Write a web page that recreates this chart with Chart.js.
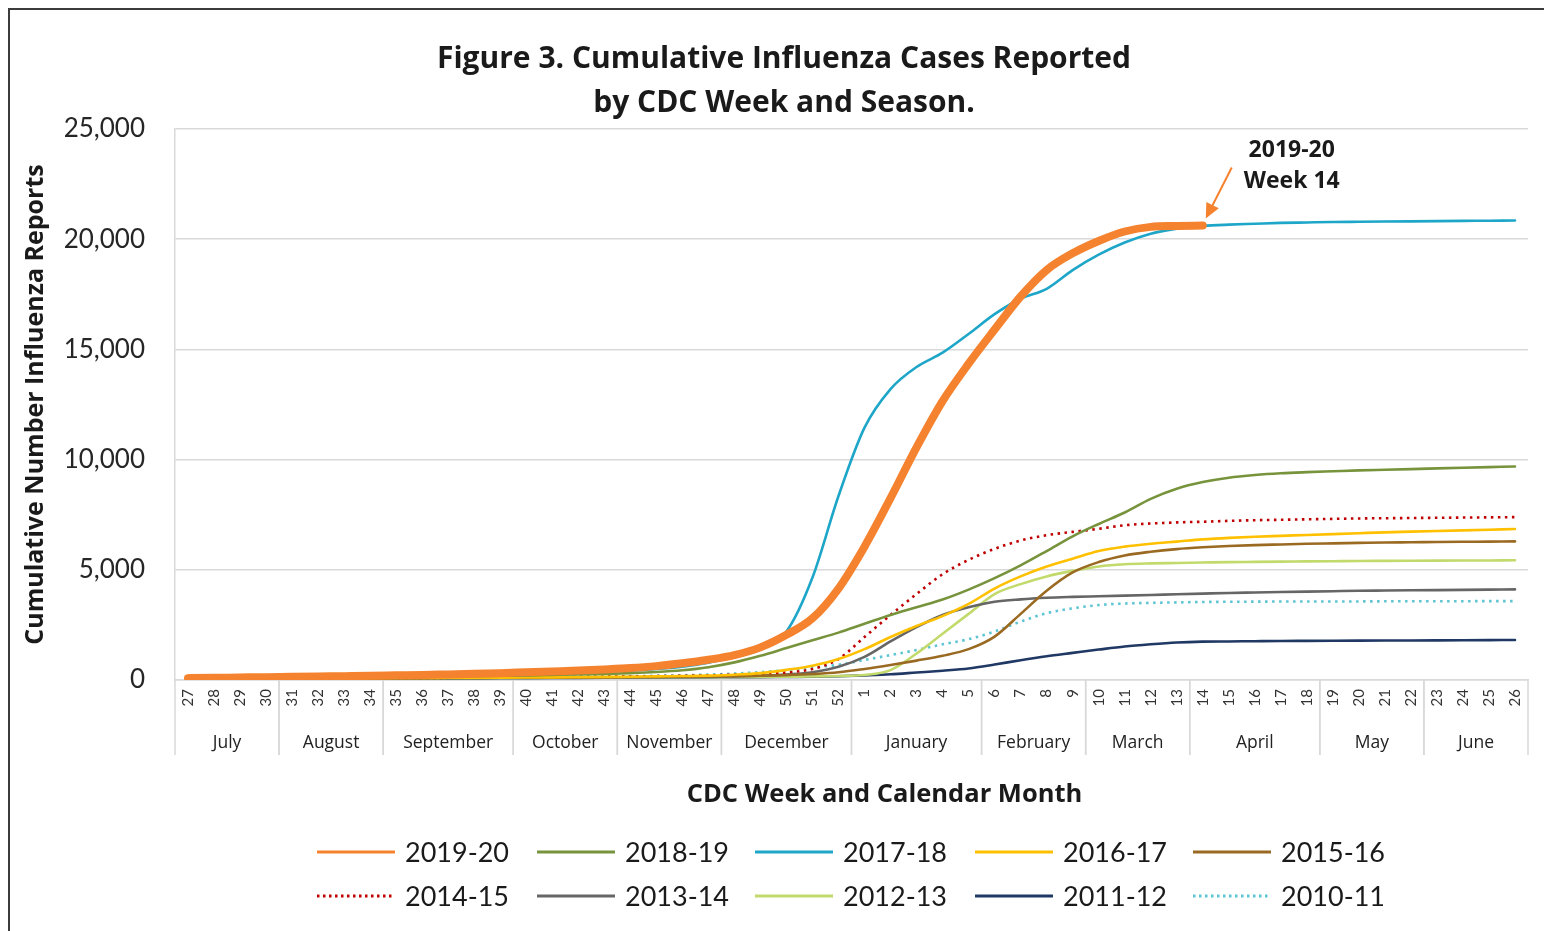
<!DOCTYPE html>
<html><head><meta charset="utf-8">
<script src="https://cdn.jsdelivr.net/npm/chart.js@4.4.1/dist/chart.umd.min.js"></script>
<style>html,body{margin:0;padding:0;background:#fff;overflow:hidden}
#wrap{position:relative;width:1544px;height:931px}</style>
</head><body><div id="wrap"><canvas id="c"></canvas></div>
<script>
const weekLabels = ['27','28','29','30','31','32','33','34','35','36','37','38','39','40','41','42','43','44','45','46','47','48','49','50','51','52','1','2','3','4','5','6','7','8','9','10','11','12','13','14','15','16','17','18','19','20','21','22','23','24','25','26'];
const monthNames = ['July','August','September','October','November','December','January','February','March','April','May','June'];
const weeksPerMonth = [4,4,5,4,4,5,5,4,4,5,4,4];
const seasonNames = ['2019-20','2018-19','2017-18','2016-17','2015-16','2014-15','2013-14','2012-13','2011-12','2010-11'];

const s2019_20 = [85,100,115,130,145,160,175,190,210,230,255,280,310,350,390,430,480,540,630,760,920,1130,1480,2050,2800,4150,6050,8250,10550,12650,14350,15900,17400,18600,19360,19920,20350,20560,20600,20620];
const s2018_19 = [60,70,80,90,100,110,120,130,140,150,165,180,195,210,230,250,275,310,360,440,580,800,1100,1450,1800,2150,2550,2950,3300,3650,4100,4620,5200,5850,6520,7080,7600,8220,8680,8980,9180,9300,9380,9430,9470,9510,9540,9570,9600,9630,9660,9690];
const s2017_18 = [70,85,100,110,125,135,150,160,175,190,210,230,255,280,310,340,380,430,500,600,780,1050,1380,2200,4650,8350,11450,13200,14200,14850,15700,16600,17300,17750,18600,19300,19850,20250,20480,20600,20660,20700,20740,20760,20780,20790,20800,20810,20820,20830,20840,20850];
const s2016_17 = [50,55,60,65,70,75,80,85,90,95,100,105,110,115,120,130,140,150,165,180,200,240,310,460,650,950,1400,1950,2450,2900,3450,4150,4700,5150,5500,5850,6050,6180,6280,6380,6450,6500,6540,6580,6620,6660,6700,6730,6760,6790,6820,6850];
const s2015_16 = [40,45,50,55,60,65,70,75,80,85,90,95,100,105,110,115,120,130,140,150,160,175,190,220,270,350,500,680,880,1100,1400,1970,3000,4050,4880,5350,5650,5820,5940,6020,6080,6120,6150,6180,6200,6220,6240,6250,6260,6270,6280,6290];
const s2014_15 = [50,55,60,65,70,75,80,85,90,95,100,105,110,120,130,140,150,160,175,190,210,240,280,340,500,950,1950,2950,3900,4800,5450,5950,6330,6570,6720,6860,7020,7100,7150,7180,7220,7250,7270,7290,7310,7330,7340,7350,7360,7370,7380,7390];
const s2013_14 = [40,45,50,55,60,65,70,75,80,85,90,95,100,105,110,115,120,125,130,140,150,165,190,250,350,600,1050,1750,2400,2950,3300,3550,3660,3730,3770,3800,3830,3860,3890,3920,3950,3970,3990,4010,4030,4050,4060,4070,4080,4090,4100,4110];
const s2012_13 = [30,35,40,45,50,55,60,65,70,75,80,85,90,95,100,105,110,115,120,125,130,135,140,150,160,180,230,450,1200,2100,3000,3900,4350,4700,4950,5150,5250,5290,5310,5330,5350,5360,5370,5380,5390,5400,5405,5410,5415,5420,5425,5430];
const s2011_12 = [20,25,30,35,40,45,50,55,60,65,70,75,80,85,90,95,100,105,110,115,120,125,130,140,150,170,210,260,340,420,520,700,900,1080,1230,1380,1520,1620,1700,1740,1750,1760,1770,1775,1780,1785,1790,1795,1800,1805,1810,1815];
const s2010_11 = [30,35,40,45,50,55,60,65,70,75,80,90,100,110,120,135,150,170,190,215,245,290,360,450,570,690,910,1130,1360,1620,1850,2200,2650,3030,3250,3400,3470,3500,3520,3540,3550,3555,3560,3560,3565,3565,3570,3570,3575,3575,3580,3580];

const seriesValues = [s2019_20,s2018_19,s2017_18,s2016_17,s2015_16,s2014_15,s2013_14,s2012_13,s2011_12,s2010_11];
const seriesColors = ['#f5822e','#77933c','#1ea6c9','#ffc000','#9a6a22','#c00000','#666666','#c2da6c','#1f3864','#5cc4d2'];
const seriesWidths = [8,2.6,2.6,2.6,2.6,2.6,2.6,2.6,2.6,2.6];
const seriesDash = [[],[],[],[],[],[2.5,4.5],[],[],[],[2.5,4.5]];

const FONT = 'Lato';
const TFONT = '"Open Sans"';
Chart.defaults.font.family = FONT;

const datasets = seasonNames.map((name,i)=>({
  label: name,
  data: seriesValues[i],
  borderColor: seriesColors[i],
  backgroundColor: seriesColors[i],
  borderWidth: seriesWidths[i],
  borderDash: seriesDash[i],
  pointRadius: 0,
  pointHoverRadius: 0,
  cubicInterpolationMode: 'monotone',
  fill: false,
  borderCapStyle: seriesDash[i].length ? 'butt' : 'round'
}));

const framePlugin = {
  id: 'frame',
  afterDraw(chart){
    const ctx = chart.ctx;
    ctx.save();
    ctx.strokeStyle = '#3c3c3c';
    ctx.lineWidth = 2;
    ctx.strokeRect(9, 9, 1700, 1100);
    ctx.restore();
  }
};

const monthAxisPlugin = {
  id: 'monthAxis',
  afterDraw(chart){
    const x = chart.scales.x, ctx = chart.ctx, area = chart.chartArea;
    const half = (x.getPixelForValue(1) - x.getPixelForValue(0)) / 2;
    ctx.save();
    ctx.strokeStyle = '#d9d9d9';
    ctx.lineWidth = 1.5;
    ctx.fillStyle = '#222222';
    ctx.font = '17.5px ' + TFONT;
    ctx.textAlign = 'center';
    ctx.textBaseline = 'middle';
    let idx = 0;
    weeksPerMonth.forEach((n, i) => {
      const l = x.getPixelForValue(idx) - half;
      const r = x.getPixelForValue(idx + n - 1) + half;
      [l, r].forEach(px => {
        ctx.beginPath();
        ctx.moveTo(px, area.bottom);
        ctx.lineTo(px, area.bottom + 75);
        ctx.stroke();
      });
      ctx.fillText(monthNames[i], (l + r) / 2, area.bottom + 63);
      idx += n;
    });
    ctx.font = 'bold 25.5px ' + TFONT;
    ctx.fillStyle = '#1a1a1a';
    ctx.fillText('CDC Week and Calendar Month', (area.left + area.right) / 2 + 33, area.bottom + 115);
    ctx.restore();
  }
};

const legendPlugin = {
  id: 'customLegend',
  afterDraw(chart){
    const ctx = chart.ctx;
    const colX = [317, 537, 755, 975, 1193];
    const rowY = [852, 896];
    ctx.save();
    ctx.font = '27px ' + FONT;
    ctx.textBaseline = 'middle';
    ctx.textAlign = 'left';
    chart.data.datasets.forEach((ds, i) => {
      const cx = colX[i % 5], cy = rowY[Math.floor(i / 5)];
      ctx.strokeStyle = ds.borderColor;
      ctx.lineWidth = 3;
      ctx.setLineDash(ds.borderDash.length ? [2.5, 3.5] : []);
      ctx.lineCap = 'butt';
      ctx.beginPath();
      ctx.moveTo(cx, cy);
      ctx.lineTo(cx + 78, cy);
      ctx.stroke();
      ctx.setLineDash([]);
      ctx.fillStyle = '#1a1a1a';
      ctx.fillText(ds.label, cx + 88, cy + 1);
    });
    ctx.restore();
  }
};

const annotationPlugin = {
  id: 'weekAnnotation',
  afterDatasetsDraw(chart){
    const meta = chart.getDatasetMeta(0);
    const pt = meta.data[s2019_20.length - 1];
    if (!pt) return;
    const ctx = chart.ctx;
    const tipX = pt.x + 3, tipY = pt.y - 7;
    const sx = tipX + 26, sy = tipY - 51;
    const ang = Math.atan2(tipY - sy, tipX - sx);
    ctx.save();
    ctx.strokeStyle = '#f5822e';
    ctx.fillStyle = '#f5822e';
    ctx.lineWidth = 2;
    const hl = 15, hw = 7;
    const bx = tipX - hl * Math.cos(ang), by = tipY - hl * Math.sin(ang);
    ctx.beginPath();
    ctx.moveTo(sx, sy);
    ctx.lineTo(bx, by);
    ctx.stroke();
    ctx.beginPath();
    ctx.moveTo(tipX, tipY);
    ctx.lineTo(bx + hw * Math.sin(ang), by - hw * Math.cos(ang));
    ctx.lineTo(bx - hw * Math.sin(ang), by + hw * Math.cos(ang));
    ctx.closePath();
    ctx.fill();
    ctx.fillStyle = '#1a1a1a';
    ctx.font = 'bold 23px ' + TFONT;
    ctx.textAlign = 'center';
    ctx.textBaseline = 'middle';
    ctx.fillText('2019-20', pt.x + 89, pt.y - 75);
    ctx.fillText('Week 14', pt.x + 89, pt.y - 44);
    ctx.restore();
  }
};

new Chart(document.getElementById('c'), {
  type: 'line',
  data: { labels: weekLabels, datasets },
  plugins: [framePlugin, monthAxisPlugin, legendPlugin, annotationPlugin],
  options: {
    responsive: true,
    maintainAspectRatio: false,
    animation: false,
    events: [],
    layout: { padding: { left: 40, right: 16, top: 0, bottom: 111 } },
    plugins: {
      legend: { display: false },
      tooltip: { enabled: false },
      title: {
        display: true,
        text: ['Figure 3. Cumulative Influenza Cases Reported', 'by CDC Week and Season.'],
        color: '#1a1a1a',
        font: { family: TFONT, size: 30, weight: 'bold', lineHeight: 44/30 },
        padding: { top: 37, bottom: 4 }
      }
    },
    scales: {
      x: {
        type: 'category',
        offset: true,
        grid: { display: false, drawTicks: false },
        border: { display: true, color: '#d9d9d9', width: 1.5 },
        ticks: {
          autoSkip: false,
          minRotation: 90,
          maxRotation: 90,
          padding: 9,
          color: '#333333',
          font: { family: FONT, size: 15 }
        },
        afterFit(scale){ scale.height = 140; }
      },
      y: {
        min: 0,
        max: 25000,
        ticks: {
          stepSize: 5000,
          padding: 30,
          color: '#262626',
          font: { family: FONT, size: 26 }
        },
        grid: { color: '#d9d9d9', lineWidth: 1.5, drawTicks: false },
        border: { display: true, color: '#d9d9d9', width: 1.5 },
        title: {
          display: true,
          text: 'Cumulative Number Influenza Reports',
          color: '#1a1a1a',
          font: { family: TFONT, size: 25, weight: 'bold' },
          padding: { top: -19, bottom: 0 }
        },
        afterFit(scale){ scale.width = 135; }
      }
    }
  }
});
</script>
</body></html>
